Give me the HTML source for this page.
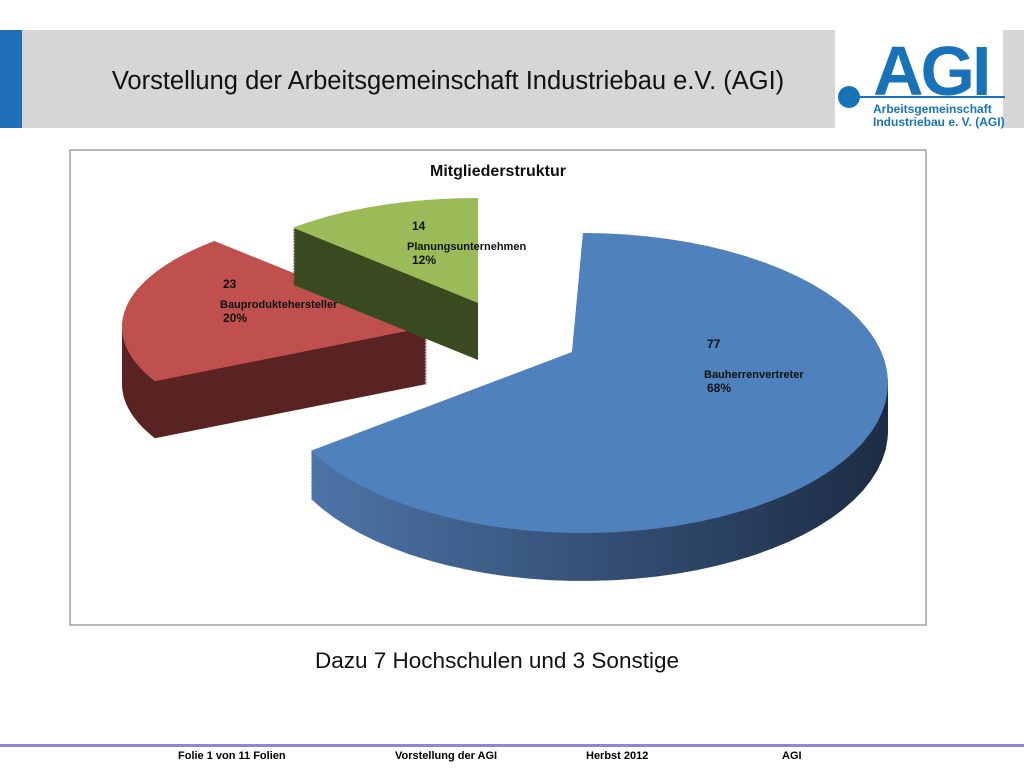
<!DOCTYPE html>
<html><head><meta charset="utf-8"><style>
body{margin:0;width:1024px;height:768px;background:#fff;position:relative;overflow:hidden;font-family:"Liberation Sans",sans-serif}
.abs{position:absolute}
</style></head><body>
<div class="abs" style="left:0;top:30px;width:22px;height:98px;background:#1e6fb8"></div>
<div class="abs" style="left:22px;top:30px;width:813px;height:98px;background:#d6d6d6"></div>
<div class="abs" style="left:22px;top:67px;width:852px;text-align:center;font-size:25.5px;color:#111;white-space:nowrap">Vorstellung der Arbeitsgemeinschaft Industriebau e.V. (AGI)</div>
<div class="abs" style="left:1003px;top:30px;width:21px;height:98px;background:#d6d6d6"></div>
<svg class="abs" style="left:835px;top:25px" width="170" height="105">
<text x="38" y="70" font-family="Liberation Sans" font-weight="bold" font-size="70" fill="#1872b8" letter-spacing="-3">AGI</text>
<circle cx="14" cy="72" r="11" fill="#1872b8"/>
<rect x="20" y="71" width="150" height="2" fill="#1872b8"/>
<text x="38" y="88" font-family="Liberation Sans" font-weight="bold" font-size="12" fill="#1872b8">Arbeitsgemeinschaft</text>
<text x="38" y="101" font-family="Liberation Sans" font-weight="bold" font-size="12" fill="#1872b8">Industriebau e. V.  (AGI)</text>
</svg>
<svg class="abs" style="left:0;top:0" width="1024" height="768" id="chart">
<defs>
<linearGradient id="gBlue" x1="0" x2="1" y1="0" y2="0"><stop offset="0" stop-color="#4d74a8"/><stop offset="1" stop-color="#1c2c44"/></linearGradient>
</defs>
<rect x="70" y="150" width="856" height="475" fill="#fff" stroke="#a0a0a0" stroke-width="1.5"/>
<text x="498" y="176" text-anchor="middle" font-family="Liberation Sans" font-weight="bold" font-size="16" fill="#111">Mitgliederstruktur</text>
<g id="slices"></g>
</svg>
<div class="abs" style="left:0;top:648px;width:994px;text-align:center;font-size:22.5px;color:#111">Dazu 7 Hochschulen und 3 Sonstige</div>
<div class="abs" style="left:0;top:744px;width:1024px;height:3px;background:#8a86d8"></div>
<div class="abs" style="left:178px;top:750px;font-size:11px;font-weight:bold">Folie 1 von 11 Folien</div>
<div class="abs" style="left:395px;top:750px;font-size:11px;font-weight:bold">Vorstellung der AGI</div>
<div class="abs" style="left:586px;top:750px;font-size:11px;font-weight:bold">Herbst 2012</div>
<div class="abs" style="left:782px;top:750px;font-size:11px;font-weight:bold">AGI</div>
<script>
const categories=["Bauherrenvertreter","Bauproduktehersteller","Planungsunternehmen"];
const values=[77,23,14];
const percentLabels=["68%","20%","12%"];
const cx=575,cy=380,rx=305,ry=150;
const topCol=["#4f81bd","#c0504d","#9bbb59"],sideCol=["url(#gBlue)","#5a2323","#3b4a20"];
const offs=[[8,3],[-148,-53],[-97,-77]];
const scl=[[1,1],[1.0,0.8],[0.87,0.7]];
const vsh=[[-11,-31],[0,0],[0,0]];
const dep=[48,57,57];
const labelPos=[[712,348],[228,288],[415,230]];
const ns="http://www.w3.org/2000/svg";
const g=document.getElementById('slices');
const total=values.reduce((a,b)=>a+b,0);
function path(i,a0,a1,dy){const [ox,oy]=offs[i],[sx,sy]=scl[i],[vx,vy]=vsh[i];
 const ex=cx+ox,ey=cy+oy+dy;let d=`M${ex+vx},${ey+vy}`;const n=60;
 for(let k=0;k<=n;k++){const t=a0+(a1-a0)*k/n;d+=`L${(ex+rx*sx*Math.sin(t)).toFixed(1)},${(ey-ry*sy*Math.cos(t)).toFixed(1)}`;}return d+'Z';}
let acc=0;const angs=values.map(v=>{const a0=acc/total*2*Math.PI;acc+=v;return [a0,acc/total*2*Math.PI];});
[1,2,0].forEach(i=>{
 const [a0,a1]=angs[i];
 const side=document.createElementNS(ns,'g');
 
 
 for(let k=dep[i];k>0;k-=1.5){const p=document.createElementNS(ns,'path');p.setAttribute('d',path(i,a0,a1,k));p.setAttribute('fill',sideCol[i]);side.appendChild(p);}
 g.appendChild(side);
 const top=document.createElementNS(ns,'path');
 
 
 top.setAttribute('d',path(i,a0,a1,0));top.setAttribute('fill',topCol[i]);
 g.appendChild(top);
});
values.forEach((v,i)=>{
 const [x,y]=labelPos[i];
 const t=document.createElementNS(ns,'text');
 
 
 t.setAttribute('font-family','Liberation Sans');t.setAttribute('font-weight','bold');t.setAttribute('font-size','11');t.setAttribute('fill','#111');
 const lines=i===0?[[x,y,v],[x,y+30,categories[i]],[x,y+44,percentLabels[i]]]:[[x,y,v],[x,y+20,categories[i]],[x,y+34,percentLabels[i]]];
 lines.forEach(([lx,ly,s],j)=>{const sp=document.createElementNS(ns,'tspan');sp.setAttribute('x',j===1?lx-8:lx+(i===0?-5:(i===1?-5:-3)));sp.setAttribute('y',ly);if(j!==1)sp.setAttribute('font-size','12');sp.textContent=s;t.appendChild(sp);});
 g.appendChild(t);
});
</script>
</body></html>
